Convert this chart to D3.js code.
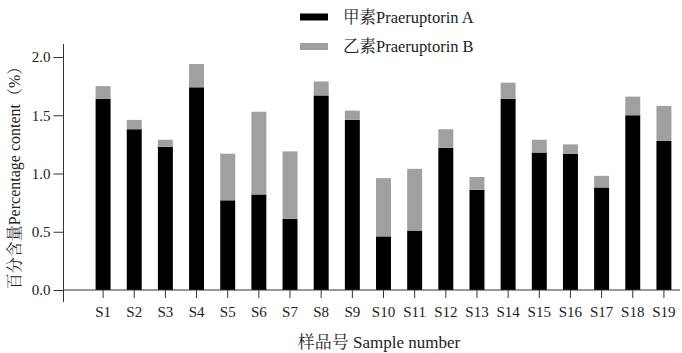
<!DOCTYPE html>
<html>
<head>
<meta charset="utf-8">
<script src="https://cdn.jsdelivr.net/npm/d3@7"></script>
<style>
  body { margin: 0; background: #fff; }
</style>
</head>
<body>
<div class="chart"></div>
<script>
var samples = ["S1","S2","S3","S4","S5","S6","S7","S8","S9","S10","S11","S12","S13","S14","S15","S16","S17","S18","S19"];
// 甲素 Praeruptorin A
var praeA = [1.64,1.38,1.23,1.74,0.77,0.82,0.61,1.67,1.46,0.46,0.51,1.22,0.86,1.64,1.18,1.17,0.88,1.50,1.28];
// 乙素 Praeruptorin B
var praeB = [0.11,0.08,0.06,0.20,0.40,0.71,0.58,0.12,0.08,0.50,0.53,0.16,0.11,0.14,0.11,0.08,0.10,0.16,0.30];
var yTicks = [0, 0.5, 1.0, 1.5, 2.0];
var seriesNames = ["甲素Praeruptorin A", "乙素Praeruptorin B"];
var seriesColors = ["#000000", "#a0a0a0"];

var FONT = "'Liberation Serif', 'Noto Serif CJK SC', 'Noto Sans CJK SC', serif";

var svg = d3.select(".chart").append("svg")
            .attr("width", 682)
            .attr("height", 353);

var x = d3.scaleBand()
          .domain(samples)
          .range([87.5, 679.5])
          .paddingInner(0.52)
          .paddingOuter(0.26);

var y = d3.scaleLinear()
          .domain([0, 2.0])
          .range([290, 57]);

var rows = samples.map(function(s, i){
    return { sample: s, a: praeA[i], b: praeB[i] };
});
var stacked = d3.stack().keys(["a", "b"])(rows);

// bars
svg.append("g").selectAll("g")
   .data(stacked)
   .enter().append("g")
   .attr("fill", function(d, i){ return seriesColors[i]; })
   .selectAll("rect")
   .data(function(d){ return d; })
   .enter().append("rect")
   .attr("x", function(d){ return x(d.data.sample); })
   .attr("width", x.bandwidth())
   .attr("y", function(d){ return y(d[1]); })
   .attr("height", function(d){ return y(d[0]) - y(d[1]); });

// y axis
var yAxis = svg.append("g")
   .attr("transform", "translate(63.5,0)")
   .call(d3.axisLeft(y).tickValues(yTicks).tickFormat(d3.format(".1f")).tickSize(10).tickPadding(3));
yAxis.select(".domain").remove();
yAxis.append("line")
     .attr("x1", 0).attr("x2", 0)
     .attr("y1", 44).attr("y2", 302)
     .attr("stroke", "#333");
yAxis.selectAll(".tick line").attr("stroke", "#333");
yAxis.selectAll("text")
     .style("font-family", FONT)
     .style("font-size", "15px")
     .style("fill", "#222");

// x axis
var xAxis = svg.append("g")
   .attr("transform", "translate(0,290)")
   .call(d3.axisBottom(x).tickSize(8).tickPadding(8));
xAxis.select(".domain").remove();
xAxis.append("line")
     .attr("x1", 63.5).attr("x2", 680)
     .attr("y1", 0).attr("y2", 0)
     .attr("stroke", "#333");
xAxis.selectAll(".tick line").attr("stroke", "#333");
xAxis.selectAll("text")
     .style("font-family", FONT)
     .style("font-size", "15px")
     .style("fill", "#222");

// axis titles
svg.append("text")
   .attr("x", 379)
   .attr("y", 348)
   .attr("text-anchor", "middle")
   .style("font-family", FONT)
   .style("font-size", "17px")
   .style("fill", "#222")
   .text("样品号 Sample number");

svg.append("text")
   .attr("transform", "translate(20,174) rotate(-90)")
   .attr("text-anchor", "middle")
   .style("font-family", FONT)
   .style("font-size", "16px")
   .style("fill", "#222")
   .text("百分含量Percentage content（%）");

// legend
var legend = svg.append("g").selectAll("g")
   .data(seriesNames)
   .enter().append("g")
   .attr("transform", function(d, i){ return "translate(300," + (17 + i * 29.5) + ")"; });

legend.append("rect")
      .attr("x", 0)
      .attr("y", -3.5)
      .attr("width", 28)
      .attr("height", 7)
      .attr("fill", function(d, i){ return seriesColors[i]; });

legend.append("text")
      .attr("x", 43)
      .attr("y", 5.5)
      .style("font-family", FONT)
      .style("font-size", "16.5px")
      .style("fill", "#222")
      .text(function(d){ return d; });
</script>
</body>
</html>
